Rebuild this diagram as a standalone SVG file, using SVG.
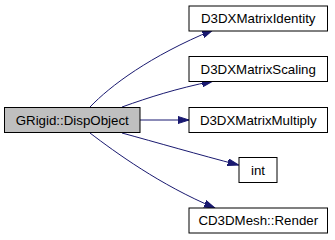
<svg xmlns="http://www.w3.org/2000/svg" width="335" height="240" viewBox="0 0 335 240">
  <style>
    .node rect { fill: #ffffff; stroke: #000000; stroke-width: 1; }
    .node.root rect { fill: #bfbfbf; }
    .node text { font-family: "Liberation Sans", Arial, sans-serif; font-size: 13.3px; text-anchor: middle; fill: #000000; }
    .edge { fill: none; stroke: #191970; stroke-width: 1; marker-end: url(#arrow); }
  </style>
  <defs>
    <marker id="arrow" markerUnits="userSpaceOnUse" markerWidth="12" markerHeight="8" refX="11" refY="4" orient="auto">
      <polygon points="0,0.5 11,4 0,7.5" fill="#191970" stroke="#191970" stroke-width="1"/>
    </marker>
  </defs>

  <!-- call edges -->
  <g id="edges">
    <path class="edge" d="M90,107 C110,86 150,56 213,30"/>
    <path class="edge" d="M122,107 C150,97 175,89 213,81"/>
    <path class="edge" d="M140,120 L189,120"/>
    <path class="edge" d="M122,133 C155,142 200,155 238.5,165"/>
    <path class="edge" d="M90,133 C115,152 160,185 215,208"/>
  </g>

  <g id="node-GRigid-DispObject" class="node root">
    <rect x="4.5" y="107.5" width="135.5" height="25"/>
    <text x="72.25" y="124.5">GRigid::DispObject</text>
  </g>
  <g id="node-D3DXMatrixIdentity" class="node">
    <rect x="189" y="6" width="138.5" height="25"/>
    <text x="258.25" y="23">D3DXMatrixIdentity</text>
  </g>
  <g id="node-D3DXMatrixScaling" class="node">
    <rect x="189" y="56.5" width="138.5" height="25"/>
    <text x="258.25" y="73.5">D3DXMatrixScaling</text>
  </g>
  <g id="node-D3DXMatrixMultiply" class="node">
    <rect x="189" y="107.5" width="138.5" height="25"/>
    <text x="258.25" y="124.5">D3DXMatrixMultiply</text>
  </g>
  <g id="node-int" class="node">
    <rect x="239" y="157.5" width="38" height="25"/>
    <text x="258" y="174.5">int</text>
  </g>
  <g id="node-CD3DMesh-Render" class="node">
    <rect x="189" y="208" width="138.5" height="25"/>
    <text x="258.25" y="225">CD3DMesh::Render</text>
  </g>
</svg>
